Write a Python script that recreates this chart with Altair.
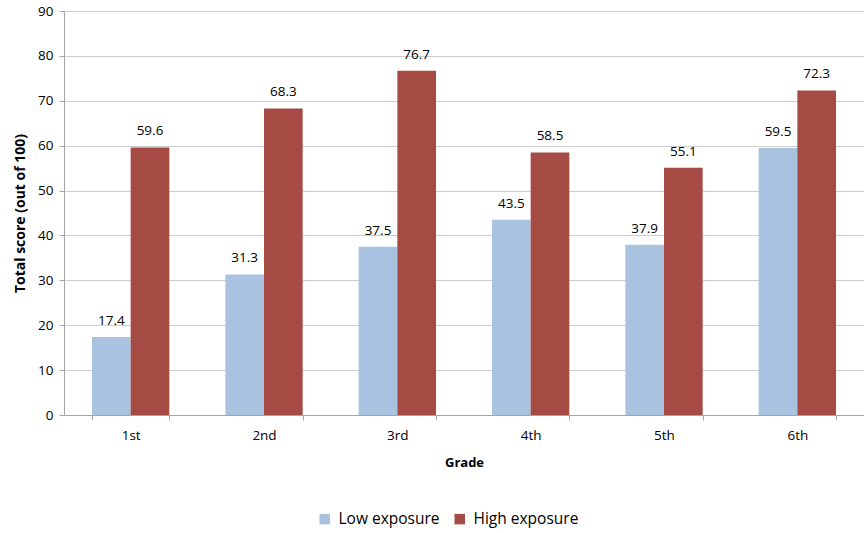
import altair as alt
import pandas as pd

grades = ["1st", "2nd", "3rd", "4th", "5th", "6th"]
low_exposure = [17.4, 31.3, 37.5, 43.5, 37.9, 59.5]
high_exposure = [59.6, 68.3, 76.7, 58.5, 55.1, 72.3]
series = ["Low exposure", "High exposure"]
colors = ["#a8c2e0", "#a64a44"]

rows = []
for g, lo, hi in zip(grades, low_exposure, high_exposure):
    rows.append({"Grade": g, "Exposure": series[0], "Score": lo})
    rows.append({"Grade": g, "Exposure": series[1], "Score": hi})
df = pd.DataFrame(rows)

FONT = "Open Sans"

x = alt.X(
    "Grade:N",
    sort=grades,
    scale=alt.Scale(paddingInner=0.42, paddingOuter=0.21),
    axis=alt.Axis(
        title="Grade",
        labelAngle=0,
        tickBand="extent",
        tickSize=5,
        labelPadding=8,
        titleY=47,
        titleBaseline="middle",
        titleFontSize=13,
    ),
)
x_off = alt.XOffset("Exposure:N", sort=series)

base = alt.Chart(df).encode(x=x, xOffset=x_off)

bars = base.mark_bar().encode(
    y=alt.Y(
        "Score:Q",
        scale=alt.Scale(domain=[0, 90], nice=False),
        axis=alt.Axis(
            title="Total score (out of 100)",
            values=list(range(0, 91, 10)),
            tickSize=5,
            labelPadding=6,
            grid=True,
            titleX=-44,
            titleBaseline="middle",
            titleFontSize=14,
        ),
    ),
    color=alt.Color(
        "Exposure:N",
        sort=series,
        scale=alt.Scale(domain=series, range=colors),
        legend=alt.Legend(
            title=None,
            orient="none",
            direction="horizontal",
            legendX=253,
            legendY=500,
            symbolType="square",
            symbolSize=110,
            symbolStrokeWidth=0,
            labelFontSize=15.5,
            labelFont=FONT,
            labelColor="#000000",
            columnPadding=12,
            labelOffset=6,
        ),
    ),
)

labels = base.mark_text(baseline="bottom", dy=-9, fontSize=13.5, font=FONT, color="#000000").encode(
    y="Score:Q",
    text=alt.Text("Score:Q", format=".1f"),
)

chart = (
    alt.layer(bars, labels)
    .properties(
        width=800,
        height=404,
        padding={"left": 64, "top": 11, "right": 0, "bottom": 118},
        autosize=alt.AutoSizeParams(type="none"),
    )
    .configure_view(stroke=None)
    .configure_axis(
        labelFont=FONT,
        labelFontSize=13.5,
        labelColor="#000000",
        titleFont=FONT,
        titleFontWeight="bold",
        titleColor="#000000",
        domainColor="#a6a6a6",
        tickColor="#a6a6a6",
        gridColor="#9a9a9a",
        gridDash=[1, 1],
        gridWidth=1,
    )
    .configure_axisX(grid=False)
)

chart.save("out.html", embed_options={"renderer": "svg", "actions": False})
